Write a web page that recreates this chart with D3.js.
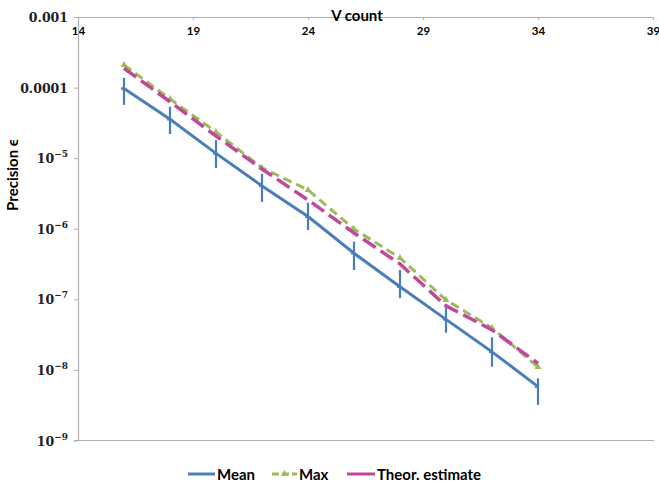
<!DOCTYPE html>
<html>
<head>
<meta charset="utf-8">
<script src="https://cdn.jsdelivr.net/npm/d3@7"></script>
<style>
  body { margin: 0; background: #fff; }
  svg { display: block; }
</style>
</head>
<body>
<svg></svg>
<script>
var width = 659
var height = 483

var vCount = [16, 18, 20, 22, 24, 26, 28, 30, 32, 34]
var meanVals = [9.7e-5, 3.56e-5, 1.17e-5, 4.04e-6, 1.49e-6, 4.5e-7, 1.51e-7, 5.2e-8, 1.8e-8, 5.8e-9]
var meanHigh = [1.37e-4, 5.37e-5, 1.81e-5, 5.97e-6, 2.34e-6, 6.56e-7, 2.6e-7, 8.6e-8, 2.9e-8, 7.6e-9]
var meanLow = [5.7e-5, 2.2e-5, 7.26e-6, 2.4e-6, 9.6e-7, 2.6e-7, 1.04e-7, 3.37e-8, 1.11e-8, 3.19e-9]
var maxVals = [2.09e-4, 6.9e-5, 2.35e-5, 7.3e-6, 3.55e-6, 9.9e-7, 3.86e-7, 9.8e-8, 3.94e-8, 1.1e-8]
var theorVals = [1.88e-4, 6.3e-5, 2.06e-5, 7.0e-6, 2.56e-6, 8.7e-7, 3.17e-7, 8.1e-8, 3.69e-8, 1.24e-8]

var xTicks = [14, 19, 24, 29, 34, 39]
var yTicks = [1e-3, 1e-4, 1e-5, 1e-6, 1e-7, 1e-8, 1e-9]
var yTickLabels = [["0.001"], ["0.0001"], ["10", "\u22125"], ["10", "\u22126"], ["10", "\u22127"], ["10", "\u22128"], ["10", "\u22129"]]
var seriesNames = ["Mean", "Max", "Theor. estimate"]

var blue = "#4a7ebb"
var green = "#9bbb59"
var magenta = "#c0479c"
var axisColor = "#b0b0b0"

var plotLeft = 78, plotRight = 653, plotTop = 17, plotBottom = 440.5

var svg = d3.select("svg")
    .attr("width", width)
    .attr("height", height)

var x = d3.scaleLinear().domain([14, 39]).range([plotLeft, plotRight])
var y = d3.scaleLog().domain([1e-9, 1e-3]).range([plotBottom, plotTop])

// bottom border line
svg.append("line")
    .attr("x1", plotLeft - 4).attr("x2", plotRight + 1)
    .attr("y1", plotBottom).attr("y2", plotBottom)
    .attr("stroke", axisColor).attr("stroke-width", 1.2)

// top x axis (labels below line)
var xAxis = d3.axisBottom(x)
    .tickValues(xTicks)
    .tickSize(3)
    .tickSizeOuter(0)
    .tickPadding(7)

var gx = svg.append("g")
    .attr("transform", `translate(0, ${plotTop})`)
    .call(xAxis)
gx.select(".domain").attr("stroke", axisColor).attr("stroke-width", 1.2)
gx.selectAll(".tick line").attr("stroke", axisColor)
gx.selectAll(".tick text")
    .attr("font-family", "Lato, 'Open Sans', sans-serif")
    .attr("font-weight", "bold")
    .attr("font-size", "11.5px")
    .attr("fill", "#000")

// left y axis
var yAxis = d3.axisLeft(y)
    .tickValues(yTicks)
    .tickSize(4)
    .tickSizeOuter(0)
    .tickFormat(() => "")

var gy = svg.append("g")
    .attr("transform", `translate(${plotLeft}, 0)`)
    .call(yAxis)
gy.select(".domain").attr("stroke", axisColor).attr("stroke-width", 1.2)
gy.selectAll(".tick line").attr("stroke", axisColor)

var yLabels = svg.append("g")
    .attr("font-family", "'DejaVu Serif', serif")
    .attr("font-weight", "bold")
    .attr("fill", "#222")

yTicks.forEach(function(t, i) {
    var lab = yTickLabels[i]
    var txt = yLabels.append("text")
        .attr("x", 68)
        .attr("y", y(t) + 5)
        .attr("text-anchor", "end")
        .attr("font-size", "12.5px")
    txt.append("tspan").text(lab[0])
    if (lab.length > 1) {
        txt.append("tspan")
            .attr("dy", -6)
            .attr("font-size", "9px")
            .text(lab[1])
    }
})

// axis titles
svg.append("text")
    .attr("x", 357)
    .attr("y", 21)
    .attr("text-anchor", "middle")
    .attr("font-family", "Lato, 'Open Sans', sans-serif")
    .attr("font-weight", "bold")
    .attr("font-size", "15px")
    .text("V count")

svg.append("text")
    .attr("transform", "rotate(-90)")
    .attr("x", -175)
    .attr("y", 18)
    .attr("text-anchor", "middle")
    .attr("font-family", "Lato, 'Open Sans', sans-serif")
    .attr("font-weight", "bold")
    .attr("font-size", "15px")
    .text("Precision \u03f5")

var line = d3.line()
    .x(d => x(d[0]))
    .y(d => y(d[1]))

var meanData = vCount.map((v, i) => [v, meanVals[i]])
var maxData = vCount.map((v, i) => [v, maxVals[i]])
var theorData = vCount.map((v, i) => [v, theorVals[i]])

// mean line
svg.append("path")
    .datum(meanData)
    .attr("d", line)
    .attr("fill", "none")
    .attr("stroke", blue)
    .attr("stroke-width", 3)

// error bars
svg.selectAll(".err")
    .data(vCount)
    .enter()
    .append("line")
    .attr("class", "err")
    .attr("x1", d => x(d)).attr("x2", d => x(d))
    .attr("y1", (d, i) => y(meanHigh[i]))
    .attr("y2", (d, i) => y(meanLow[i]))
    .attr("stroke", blue)
    .attr("stroke-width", 2.2)

// mean dash markers
svg.selectAll(".meanMark")
    .data(meanData)
    .enter()
    .append("line")
    .attr("class", "meanMark")
    .attr("x1", d => x(d[0]) - 3).attr("x2", d => x(d[0]))
    .attr("y1", d => y(d[1])).attr("y2", d => y(d[1]))
    .attr("stroke", blue)
    .attr("stroke-width", 2.5)

// max line
svg.append("path")
    .datum(maxData)
    .attr("d", line)
    .attr("fill", "none")
    .attr("stroke", green)
    .attr("stroke-width", 3)
    .attr("stroke-dasharray", "9,5")

svg.selectAll(".maxMark")
    .data(maxData)
    .enter()
    .append("path")
    .attr("class", "maxMark")
    .attr("d", d3.symbol(d3.symbolTriangle, 20))
    .attr("transform", d => `translate(${x(d[0])}, ${y(d[1])})`)
    .attr("fill", green)

// theoretical estimate
svg.append("path")
    .datum(theorData)
    .attr("d", line)
    .attr("fill", "none")
    .attr("stroke", magenta)
    .attr("stroke-width", 3.5)
    .attr("stroke-dasharray", "15,6")

// legend
var legendY = 474
var legendItems = [
    { name: seriesNames[0], color: blue, x1: 188, x2: 215, dash: null },
    { name: seriesNames[1], color: green, x1: 272, x2: 297, dash: "7,3" },
    { name: seriesNames[2], color: magenta, x1: 347, x2: 375, dash: null }
]

var legend = svg.append("g")
legendItems.forEach(function(it, i) {
    legend.append("line")
        .attr("x1", it.x1).attr("x2", it.x2)
        .attr("y1", legendY).attr("y2", legendY)
        .attr("stroke", it.color)
        .attr("stroke-width", 3)
        .attr("stroke-dasharray", it.dash)
    if (i === 1) {
        legend.append("path")
            .attr("d", d3.symbol(d3.symbolTriangle, 20))
            .attr("transform", `translate(${(it.x1 + it.x2) / 2}, ${legendY})`)
            .attr("fill", it.color)
    }
    legend.append("text")
        .attr("x", it.x2 + 2)
        .attr("y", legendY + 5.5)
        .attr("font-family", "Lato, 'Open Sans', sans-serif")
        .attr("font-weight", "bold")
        .attr("font-size", "15px")
        .text(it.name)
})
</script>
</body>
</html>
